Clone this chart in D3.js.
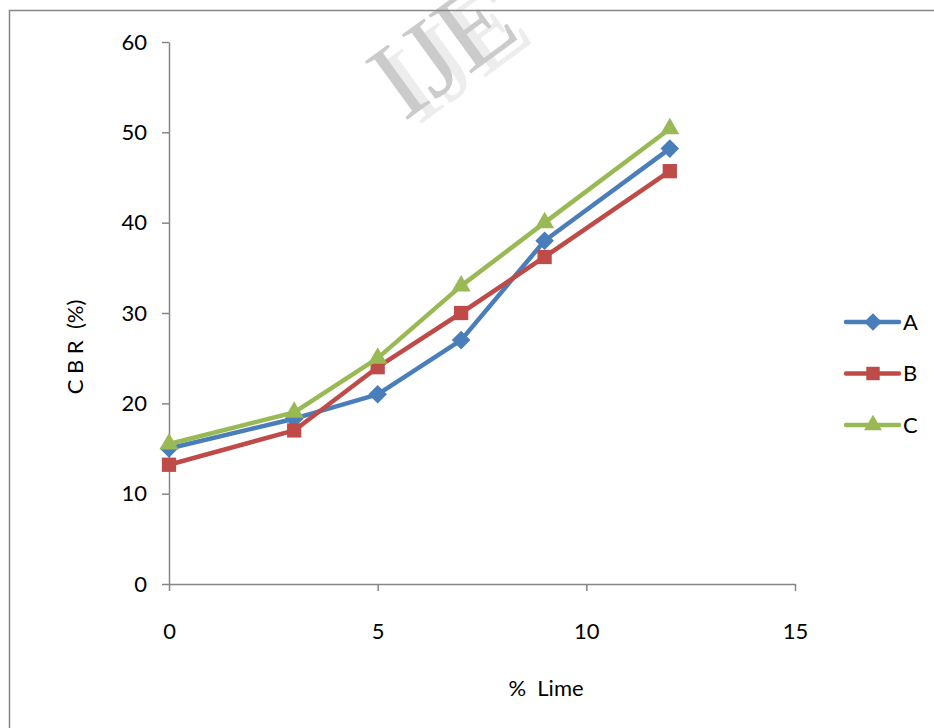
<!DOCTYPE html>
<html>
<head>
<meta charset="utf-8">
<script src="https://cdn.jsdelivr.net/npm/d3@7"></script>
<style>
  body { margin: 0; background: #fff; }
  svg { display: block; font-family: Lato, "Open Sans", sans-serif; }
</style>
</head>
<body>
<div id="chart"></div>
<script>
// data
var lime = [0, 3, 5, 7, 9, 12];
var seriesNames = ["A", "B", "C"];
var cbrA = [15, 18.3, 21, 27, 38, 48.2];
var cbrB = [13.2, 17, 24, 30, 36.2, 45.7];
var cbrC = [15.5, 19, 25, 33, 40, 50.4];
var xTicks = [0, 5, 10, 15];
var yTicks = [0, 10, 20, 30, 40, 50, 60];

var colors = {A: "#4A7EBB", B: "#BE4B48", C: "#98B954"};
var shapes = {A: d3.symbolDiamond2, B: d3.symbolSquare2, C: d3.symbolTriangle2};

var series = [
  {name: "A", values: cbrA},
  {name: "B", values: cbrB},
  {name: "C", values: cbrC}
];

var W = 934, H = 728;
var svg = d3.select("#chart").append("svg")
    .attr("width", W)
    .attr("height", H);

// watermark, rotated and running off the top edge (light shadow + grey face)
[{dx: 14, dy: 4, fill: "#ededed"}, {dx: 0, dy: 0, fill: "#cbcbcb"}].forEach(function(w) {
  svg.append("text")
      .attr("transform", "translate(" + (404 + w.dx) + "," + (122 + w.dy) + ") rotate(-36)")
      .style("font-family", "'Liberation Serif', serif")
      .style("font-size", "110px")
      .attr("fill", w.fill)
      .text("IJE");
});

// outer frame (runs off right & bottom edge)
svg.append("rect")
    .attr("x", 9.5).attr("y", 10.5)
    .attr("width", W + 10).attr("height", H + 10)
    .attr("fill", "none")
    .attr("stroke", "#868686")
    .attr("stroke-width", 1.5);

var x = d3.scaleLinear().domain([0, 15]).range([169, 795]);
var y = d3.scaleLinear().domain([0, 60]).range([584, 42]);

var axisColor = "#868686";

var yAxis = svg.append("g")
    .attr("transform", "translate(" + x(0) + ",0)")
    .call(d3.axisLeft(y).tickValues(yTicks).tickSize(7).tickPadding(15).tickSizeOuter(0));

var xAxis = svg.append("g")
    .attr("transform", "translate(0," + y(0) + ")")
    .call(d3.axisBottom(x).tickValues(xTicks).tickSize(7).tickPadding(32).tickSizeOuter(0));

[xAxis, yAxis].forEach(function(g) {
  g.select(".domain").attr("stroke", axisColor).attr("stroke-width", 1.5);
  g.selectAll(".tick line").attr("stroke", axisColor).attr("stroke-width", 1.5);
  g.selectAll(".tick text")
      .attr("fill", "#000")
      .style("font-size", "22px")
      .style("font-family", "Lato, 'Open Sans', sans-serif");
});

// axis titles
svg.append("text")
    .attr("x", 546).attr("y", 696)
    .attr("text-anchor", "middle")
    .style("font-size", "22px")
    .attr("xml:space", "preserve")
    .text("%  Lime");

svg.append("text")
    .attr("transform", "translate(83,347) rotate(-90)")
    .attr("text-anchor", "middle")
    .style("font-size", "22px")
    .attr("xml:space", "preserve")
    .text("C B R  (%)");

var line = d3.line()
    .x(function(d, i) { return x(lime[i]); })
    .y(function(d) { return y(d); });

var groups = svg.selectAll(".series")
    .data(series)
  .enter().append("g")
    .attr("class", "series");

groups.append("path")
    .attr("d", function(s) { return line(s.values); })
    .attr("fill", "none")
    .attr("stroke", function(s) { return colors[s.name]; })
    .attr("stroke-width", 4.5)
    .attr("stroke-linejoin", "round");

groups.each(function(s) {
  d3.select(this).selectAll("path.mark")
      .data(s.values)
    .enter().append("path")
      .attr("class", "mark")
      .attr("transform", function(d, i) { return "translate(" + x(lime[i]) + "," + y(d) + ")"; })
      .attr("d", d3.symbol().type(shapes[s.name]).size(s.name == "A" ? 220 : 260))
      .attr("fill", colors[s.name]);
});

// legend
var legend = svg.selectAll(".legend")
    .data(seriesNames)
  .enter().append("g")
    .attr("class", "legend")
    .attr("transform", function(d, i) { return "translate(846," + (322 + i * 51.5) + ")"; });

legend.append("line")
    .attr("x1", 0).attr("x2", 53)
    .attr("stroke", function(d) { return colors[d]; })
    .attr("stroke-width", 4.5)
    .attr("stroke-linecap", "round");

legend.append("path")
    .attr("transform", "translate(27,0)")
    .attr("d", function(d) { return d3.symbol().type(shapes[d]).size(d == "A" ? 200 : 230)(); })
    .attr("fill", function(d) { return colors[d]; });

legend.append("text")
    .attr("x", 57)
    .attr("dy", "0.36em")
    .style("font-size", "22px")
    .text(function(d) { return d; });
</script>
</body>
</html>
